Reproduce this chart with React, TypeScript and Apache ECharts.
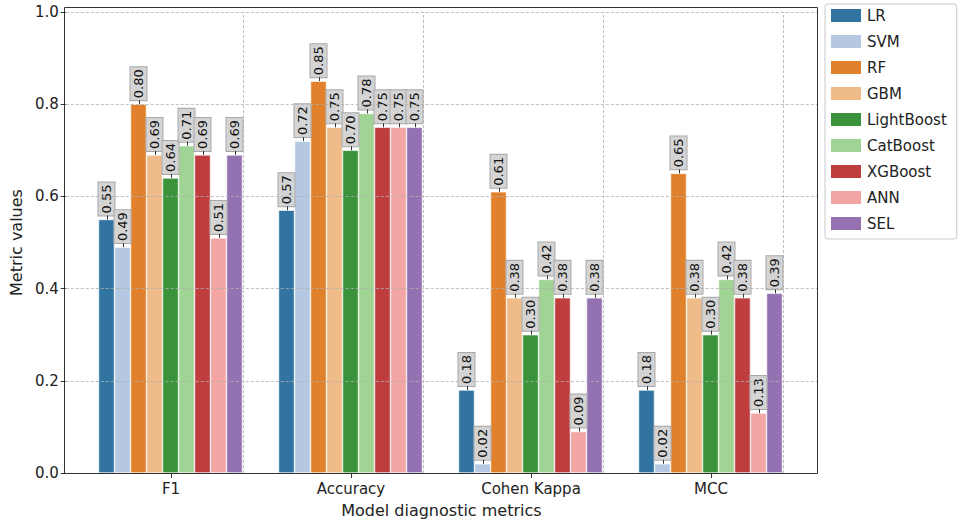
import React, { useEffect, useRef } from "react";
import * as echarts from "echarts";

const categories = ["F1", "Accuracy", "Cohen Kappa", "MCC"];
const models = ["LR", "SVM", "RF", "GBM", "LightBoost", "CatBoost", "XGBoost", "ANN", "SEL"];
const LR = [0.55, 0.57, 0.18, 0.18];
const SVM = [0.49, 0.72, 0.02, 0.02];
const RF = [0.8, 0.85, 0.61, 0.65];
const GBM = [0.69, 0.75, 0.38, 0.38];
const LightBoost = [0.64, 0.7, 0.3, 0.3];
const CatBoost = [0.71, 0.78, 0.42, 0.42];
const XGBoost = [0.69, 0.75, 0.38, 0.38];
const ANN = [0.51, 0.75, 0.09, 0.13];
const SEL = [0.69, 0.75, 0.38, 0.39];
const seriesValues = [LR, SVM, RF, GBM, LightBoost, CatBoost, XGBoost, ANN, SEL];
const colors = ["#3274a1", "#b5c8e1", "#e1812c", "#eebb89", "#3a923a", "#9fd495", "#c03d3e", "#f2a5a3", "#9472b2"];
const yTicks = [0, 0.2, 0.4, 0.6, 0.8, 1.0];

const FONT = "DejaVu Sans";
const BAR_W = 16;

export default function App() {
  const ref = useRef<HTMLDivElement>(null);
  useEffect(() => {
    if (!ref.current) return;
    const chart = echarts.init(ref.current, undefined, { renderer: "svg" });
    const barSeries = models.map((m, i) => ({
      name: m,
      type: "bar",
      xAxisIndex: 1,
      yAxisIndex: 1,
      data: seriesValues[i],
      barWidth: BAR_W,
      barGap: "0%",
      itemStyle: { color: colors[i], borderColor: "#ffffff", borderWidth: 0.6 },
      label: {
        show: true,
        position: "top",
        distance: 4,
        rotate: 90,
        align: "left",
        verticalAlign: "middle",
        formatter: (p: any) => Number(p.value).toFixed(2),
        fontFamily: FONT,
        fontSize: 13,
        lineHeight: 14,
        color: "#111",
        backgroundColor: "#d4d4d4",
        borderColor: "#a8a8a8",
        borderWidth: 1,
        padding: [1, 2, 1, 2],
      },
      z: 2,
    }));
    const connectorData: number[][] = [];
    seriesValues.forEach((vals, mi) => vals.forEach((v, ci) => connectorData.push([ci, v, mi])));
    const connectorSeries = {
      name: "_connectors",
      type: "custom",
      xAxisIndex: 1,
      yAxisIndex: 1,
      silent: true,
      z: 4,
      encode: { x: 0, y: 1 },
      data: connectorData,
      renderItem: (params: any, api: any) => {
        const p = api.coord([api.value(0), api.value(1)]);
        const mi = api.value(2);
        const x = Math.round(p[0] + (mi - (models.length - 1) / 2) * BAR_W) + 0.5;
        return {
          type: "line",
          shape: { x1: x, y1: p[1], x2: x, y2: p[1] - 4 },
          style: { stroke: "#333", lineWidth: 1 },
        };
      },
    };
    const gridSeries = {
      name: "_grid",
      type: "bar",
      xAxisIndex: 1,
      yAxisIndex: 1,
      data: [],
      silent: true,
      markLine: {
        silent: true,
        symbol: ["none", "none"],
        label: { show: false },
        lineStyle: { color: "#b0b0b0", type: [3, 2], width: 0.8 },
        data: categories.map((c) => ({ xAxis: c })),
        z: 5,
      },
    };
    chart.setOption({
      animation: false,
      textStyle: { fontFamily: FONT },
      grid: [
        { left: 64, right: 147, top: 12, bottom: 52 },
        { left: 81, right: 163, top: 12, bottom: 52 },
      ],
      xAxis: [
        {
          gridIndex: 0,
          type: "value",
          min: 0,
          max: 1,
          axisLine: { show: false },
          axisTick: { show: false },
          axisLabel: { show: false },
          splitLine: { show: false },
          name: "Model diagnostic metrics",
          nameLocation: "middle",
          nameGap: 29,
          nameTextStyle: { fontFamily: FONT, fontSize: 16, color: "#222", verticalAlign: "top" },
        },
        {
          gridIndex: 1,
          type: "category",
          data: categories,
          axisLine: { show: false },
          axisTick: { show: true, alignWithLabel: true, length: 5, lineStyle: { color: "#333" } },
          axisLabel: { fontFamily: FONT, fontSize: 15, color: "#222", margin: 8 },
          splitLine: { show: false },
        },
      ],
      yAxis: [
        {
          gridIndex: 0,
          type: "value",
          min: 0,
          max: 1,
          interval: 0.2,
          z: 5,
          axisLine: { show: false },
          axisTick: { show: true, length: 5, lineStyle: { color: "#333" } },
          axisLabel: {
            fontFamily: FONT,
            fontSize: 15,
            color: "#222",
            margin: 7,
            formatter: (v: number) => (yTicks.some((t) => Math.abs(t - v) < 1e-6) ? v.toFixed(1) : ""),
          },
          splitLine: { show: true, lineStyle: { color: "#b0b0b0", type: [3, 2], width: 0.8 } },
          name: "Metric values",
          nameLocation: "middle",
          nameGap: 40,
          nameTextStyle: { fontFamily: FONT, fontSize: 16, color: "#222" },
        },
        {
          gridIndex: 1,
          type: "value",
          min: 0,
          max: 1,
          show: false,
          splitLine: { show: false },
        },
      ],
      legend: {
        data: models,
        orient: "vertical",
        left: 825,
        top: 4,
        icon: "rect",
        itemWidth: 32,
        itemHeight: 15,
        itemGap: 9,
        padding: [3, 10, 7, 4],
        borderColor: "#c8c8c8",
        borderWidth: 1,
        borderRadius: 3,
        textStyle: { fontFamily: FONT, fontSize: 15, color: "#222" },
      },
      graphic: [
        {
          type: "rect",
          shape: { x: 64.5, y: 7.5, width: 753, height: 466 },
          style: { fill: "none", stroke: "#333", lineWidth: 1 },
          z: 10,
          silent: true,
        },
      ],
      series: [...barSeries, connectorSeries, gridSeries],
    });
    return () => chart.dispose();
  }, []);
  return (
    <div
      ref={ref}
      style={{ position: "fixed", left: 0, top: 0, width: 964, height: 525, background: "#fff" }}
    />
  );
}
